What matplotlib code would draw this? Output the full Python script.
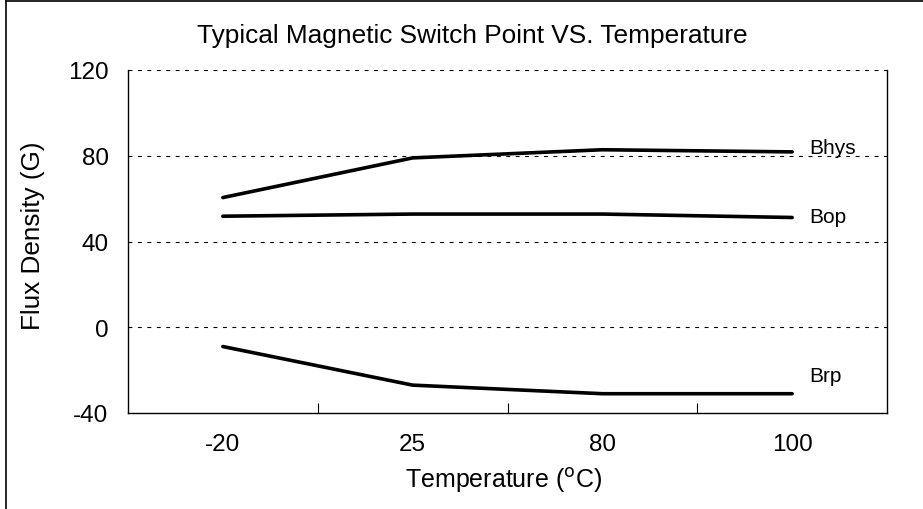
import matplotlib
matplotlib.use("Agg")
import matplotlib.pyplot as plt
from matplotlib.lines import Line2D

plt.rcParams['font.family'] = ['Liberation Sans', 'DejaVu Sans']

temps = ["-20", "25", "80", "100"]
bhys = [60.5, 79, 82.8, 81.8]
bop = [51.8, 52.8, 52.8, 51.2]
brp = [-9, -27, -31, -31]
series_names = ["Bhys", "Bop", "Brp"]
label_y = [81.2, 49, -25.2]
yticks = [-40, 0, 40, 80, 120]

W, H = 923, 510
fig = plt.figure(figsize=(W / 100, H / 100), dpi=100)
L, R, T, B = 128, 887, 71, 414
ax = fig.add_axes([L / W, 1 - B / H, (R - L) / W, (B - T) / H])

x = list(range(len(temps)))
for vals in (bhys, bop, brp):
    ax.plot(x, vals, color='black', lw=2.6, solid_capstyle='round', solid_joinstyle='round', zorder=3)

for name, ly in zip(series_names, label_y):
    ax.text(3.09, ly, name, fontsize=15, va='baseline', ha='left')

ax.set_xlim(-0.5, 3.5)
ax.set_ylim(-40, 120)
ax.set_yticks(yticks)
ax.set_yticklabels([str(v) for v in yticks])
ax.set_xticks(x)
ax.set_xticklabels(temps)
ax.set_xticks([0.5, 1.5, 2.5], minor=True)
ax.tick_params(axis='x', which='major', length=0, pad=14.5, labelsize=17.5)
ax.tick_params(axis='x', which='minor', direction='in', length=7, width=0.8)
ax.tick_params(axis='y', direction='in', length=0, pad=14, labelsize=17.5)

for gy in [0, 40, 80, 120]:
    ax.axhline(gy, color='black', lw=0.8, dashes=(3.5, 5), zorder=1)

ax.spines['top'].set_visible(False)
for s in ('left', 'right', 'bottom'):
    ax.spines[s].set_linewidth(1.0)

ax.set_xlabel("Temperature ($^{\\mathrm{o}}$C)", fontsize=18, va='center', ha='center')
ax.xaxis.set_label_coords(((408 + 599) / 2 - L) / (R - L), (B - 481) / (B - T))
ax.set_ylabel("Flux Density (G)", fontsize=18.8, va='center', ha='center')
ax.yaxis.set_label_coords((33 - L) / (R - L), (B - 236) / (B - T))
fig.text(472 / W, 1 - 36 / H, "Typical Magnetic Switch Point VS. Temperature",
         fontsize=18.9, ha='center', va='center')

fig.add_artist(Line2D([6 / W, 6 / W], [0, 1 - 2 / H], color='black', lw=1.2, transform=fig.transFigure))
fig.add_artist(Line2D([6 / W, 1], [1 - 2 / H, 1 - 2 / H], color='black', lw=1.2, transform=fig.transFigure))

fig.savefig("out.png", dpi=100)
